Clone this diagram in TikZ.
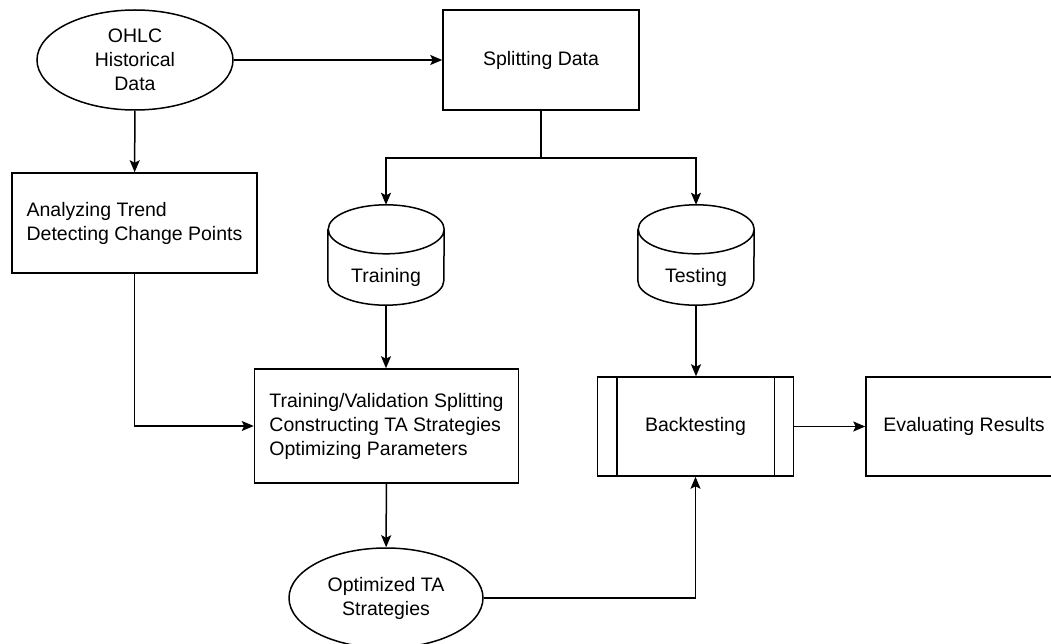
\documentclass[tikz,border=0pt]{standalone}
\usepackage{fontspec}
\setmainfont{Liberation Sans}
\usetikzlibrary{shapes.geometric, arrows.meta}

\tikzset{
    flow/.style={line width=1.5pt, -{Stealth[length=12pt, width=10pt, inset=2.5pt]}},
    plain/.style={line width=1.5pt},
    procbox/.style={draw, line width=1.5pt, rectangle, inner sep=0pt},
    roundbox/.style={draw, line width=1.5pt, ellipse, inner sep=0pt, align=center},
    dbbox/.style={rectangle, inner sep=0pt, minimum width=116pt, minimum height=100pt}
}

% cylinder outline drawn on a named node
\newcommand{\dbshape}[1]{%
    \draw[plain] ([yshift=-24.5pt]#1.north west)
        -- ([yshift=24.5pt]#1.south west)
        arc[start angle=180, end angle=360, x radius=58pt, y radius=24.5pt]
        -- ([yshift=-24.5pt]#1.north east)
        arc[start angle=0, end angle=180, x radius=58pt, y radius=24.5pt]
        arc[start angle=180, end angle=360, x radius=58pt, y radius=24.5pt];
}

\begin{document}
\begin{tikzpicture}[x=1pt, y=-1pt, font=\fontsize{19.5}{24}\selectfont]
    \useasboundingbox (0, 0) rectangle (1051, 644);

    % Top row
    \node[roundbox, minimum width=196pt, minimum height=100pt] (OHLC) at (135, 60)
        {OHLC\\Historical\\Data};
    \node[procbox, minimum width=196pt, minimum height=100pt] (Split) at (541, 60)
        {Splitting Data};
    \node[procbox, minimum width=245pt, minimum height=100pt, align=left] (Trend) at (134.5, 223)
        {Analyzing Trend\\Detecting Change Points};

    % Data sets
    \node[dbbox, label={[yshift=-22pt]center:Training}] (Train) at (386, 255) {};
    \node[dbbox, label={[yshift=-22pt]center:Testing}] (Test) at (696, 255) {};
    \dbshape{Train}
    \dbshape{Test}

    % Middle row
    \node[procbox, minimum width=264pt, minimum height=114pt, align=left] (Optim) at (386.5, 426)
        {Training/Validation Splitting\\Constructing TA Strategies\\Optimizing Parameters};
    \node[procbox, minimum width=196pt, minimum height=99pt] (Back) at (695.5, 426.5)
        {Backtesting};
    \draw[plain] ([xshift=20pt]Back.north west) -- ([xshift=20pt]Back.south west);
    \draw[plain] ([xshift=-20pt]Back.north east) -- ([xshift=-20pt]Back.south east);
    \node[procbox, minimum width=196pt, minimum height=99pt] (Eval) at (964, 426.5)
        {Evaluating Results};

    % Bottom
    \node[roundbox, minimum width=194pt, minimum height=100pt] (Strat) at (386, 598)
        {Optimized TA\\Strategies};

    % Connectors
    \coordinate (Fork) at (541, 158);
    \draw[flow] (OHLC) -- (Split);
    \draw[flow] (OHLC) -- (Trend);
    \draw[plain] (Split) -- (Fork);
    \draw[flow] (Fork) -| (Train.north);
    \draw[flow] (Fork) -| (Test.north);
    \draw[flow] (Train.south) -- (Train.south |- Optim.north);
    \draw[flow] (Test.south) -- (Test.south |- Back.north);
    \draw[flow] (Trend) |- (Optim);
    \draw[flow] (Optim) -- (Strat);
    \draw[flow] (Strat) -| (Back);
    \draw[flow] (Back) -- (Eval);
\end{tikzpicture}
\end{document}
